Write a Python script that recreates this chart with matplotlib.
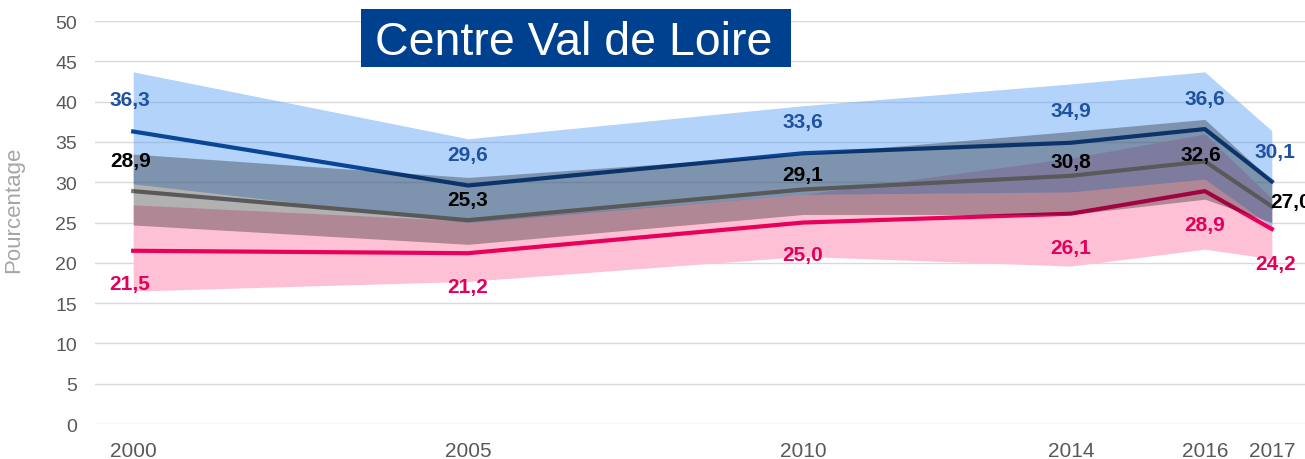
import matplotlib.pyplot as plt
from matplotlib.patches import Rectangle

plt.rcParams['font.family'] = ['Liberation Sans', 'DejaVu Sans']

annees = [2000, 2005, 2010, 2014, 2016, 2017]

bleu = [36.3, 29.6, 33.6, 34.9, 36.6, 30.1]
bleu_bas = [29.8, 25.0, 28.5, 28.8, 30.4, 24.5]
bleu_haut = [43.7, 35.4, 39.5, 42.2, 43.7, 36.4]

gris = [28.9, 25.3, 29.1, 30.8, 32.6, 27.0]
gris_bas = [24.7, 22.3, 26.0, 26.0, 27.9, 25.0]
gris_haut = [33.5, 30.6, 33.5, 36.3, 37.8, 30.2]

rose = [21.5, 21.2, 25.0, 26.1, 28.9, 24.2]
rose_bas = [16.5, 17.7, 20.8, 19.6, 21.7, 20.5]
rose_haut = [27.2, 25.2, 28.5, 33.0, 36.0, 28.0]

# decalage des etiquettes (pixels)
dec_bleu = [(-3, 32), (0, 31), (0, 32), (0, 32), (0, 31), (3, 30)]
dec_gris = [(-3, 31), (0, 21), (0, 15), (0, 14), (-4, 7), (19, 5)]
dec_rose = [(-3, -33), (0, -33), (0, -32), (0, -34), (0, -33), (4, -34)]

def lab(v):
    return f"{v:.1f}".replace(".", ",")

fig = plt.figure(figsize=(13.05, 4.6), dpi=100)
ax = fig.add_axes([0.0728, 0.076, 0.93, 0.876])

ax.fill_between(annees, rose_bas, rose_haut, color="#fdc0d5", lw=0, zorder=1)
ax.fill_between(annees, bleu_bas, bleu_haut, color=(90/255, 160/255, 245/255), alpha=0.46, lw=0, zorder=2)

ax.plot(annees, bleu, color="#0b4596", lw=3, zorder=3)
ax.plot(annees, gris, color="#7d7d7d", lw=3, zorder=3)
ax.plot(annees, rose, color="#e8005a", lw=3, zorder=3)

ax.fill_between(annees, gris_bas, gris_haut, color="#0f0f0f", alpha=0.32, lw=0, zorder=4)

for i, x in enumerate(annees):
    ax.annotate(lab(bleu[i]), (x, bleu[i]), xytext=dec_bleu[i], textcoords="offset pixels",
                ha="center", va="center", color="#1f53a0", fontsize=15, fontweight="bold", zorder=6)
    ax.annotate(lab(gris[i]), (x, gris[i]), xytext=dec_gris[i], textcoords="offset pixels",
                ha="center", va="center", color="black", fontsize=15, fontweight="bold", zorder=6)
    ax.annotate(lab(rose[i]), (x, rose[i]), xytext=dec_rose[i], textcoords="offset pixels",
                ha="center", va="center", color="#e3005b", fontsize=15, fontweight="bold", zorder=6)

ax.set_xlim(1999.43, 2017.55)
ax.set_ylim(0, 50)
ax.set_yticks(range(0, 51, 5))
ax.set_xticks(annees)
ax.tick_params(axis="both", length=0, labelcolor="#595959")
ax.tick_params(axis="y", pad=13, labelsize=14)
ax.tick_params(axis="x", pad=12, labelsize=15)
ax.grid(axis="y", color="#d9d9d9", lw=1)
ax.set_axisbelow(True)
for s in ax.spines.values():
    s.set_visible(False)

fig.text(0.0107, 0.543, "Pourcentage", rotation=90, ha="center", va="center",
         fontsize=16, color="#a6a6a6")

fig.add_artist(Rectangle((0.2766, 0.8522), 0.3295, 0.1261, transform=fig.transFigure,
                         facecolor="#00418f", edgecolor="none", zorder=5))
fig.text(0.4395, 0.8804, "Centre Val de Loire", ha="center", va="baseline", fontsize=33.5,
         color="white", zorder=6)

fig.savefig("out.png", dpi=100)
